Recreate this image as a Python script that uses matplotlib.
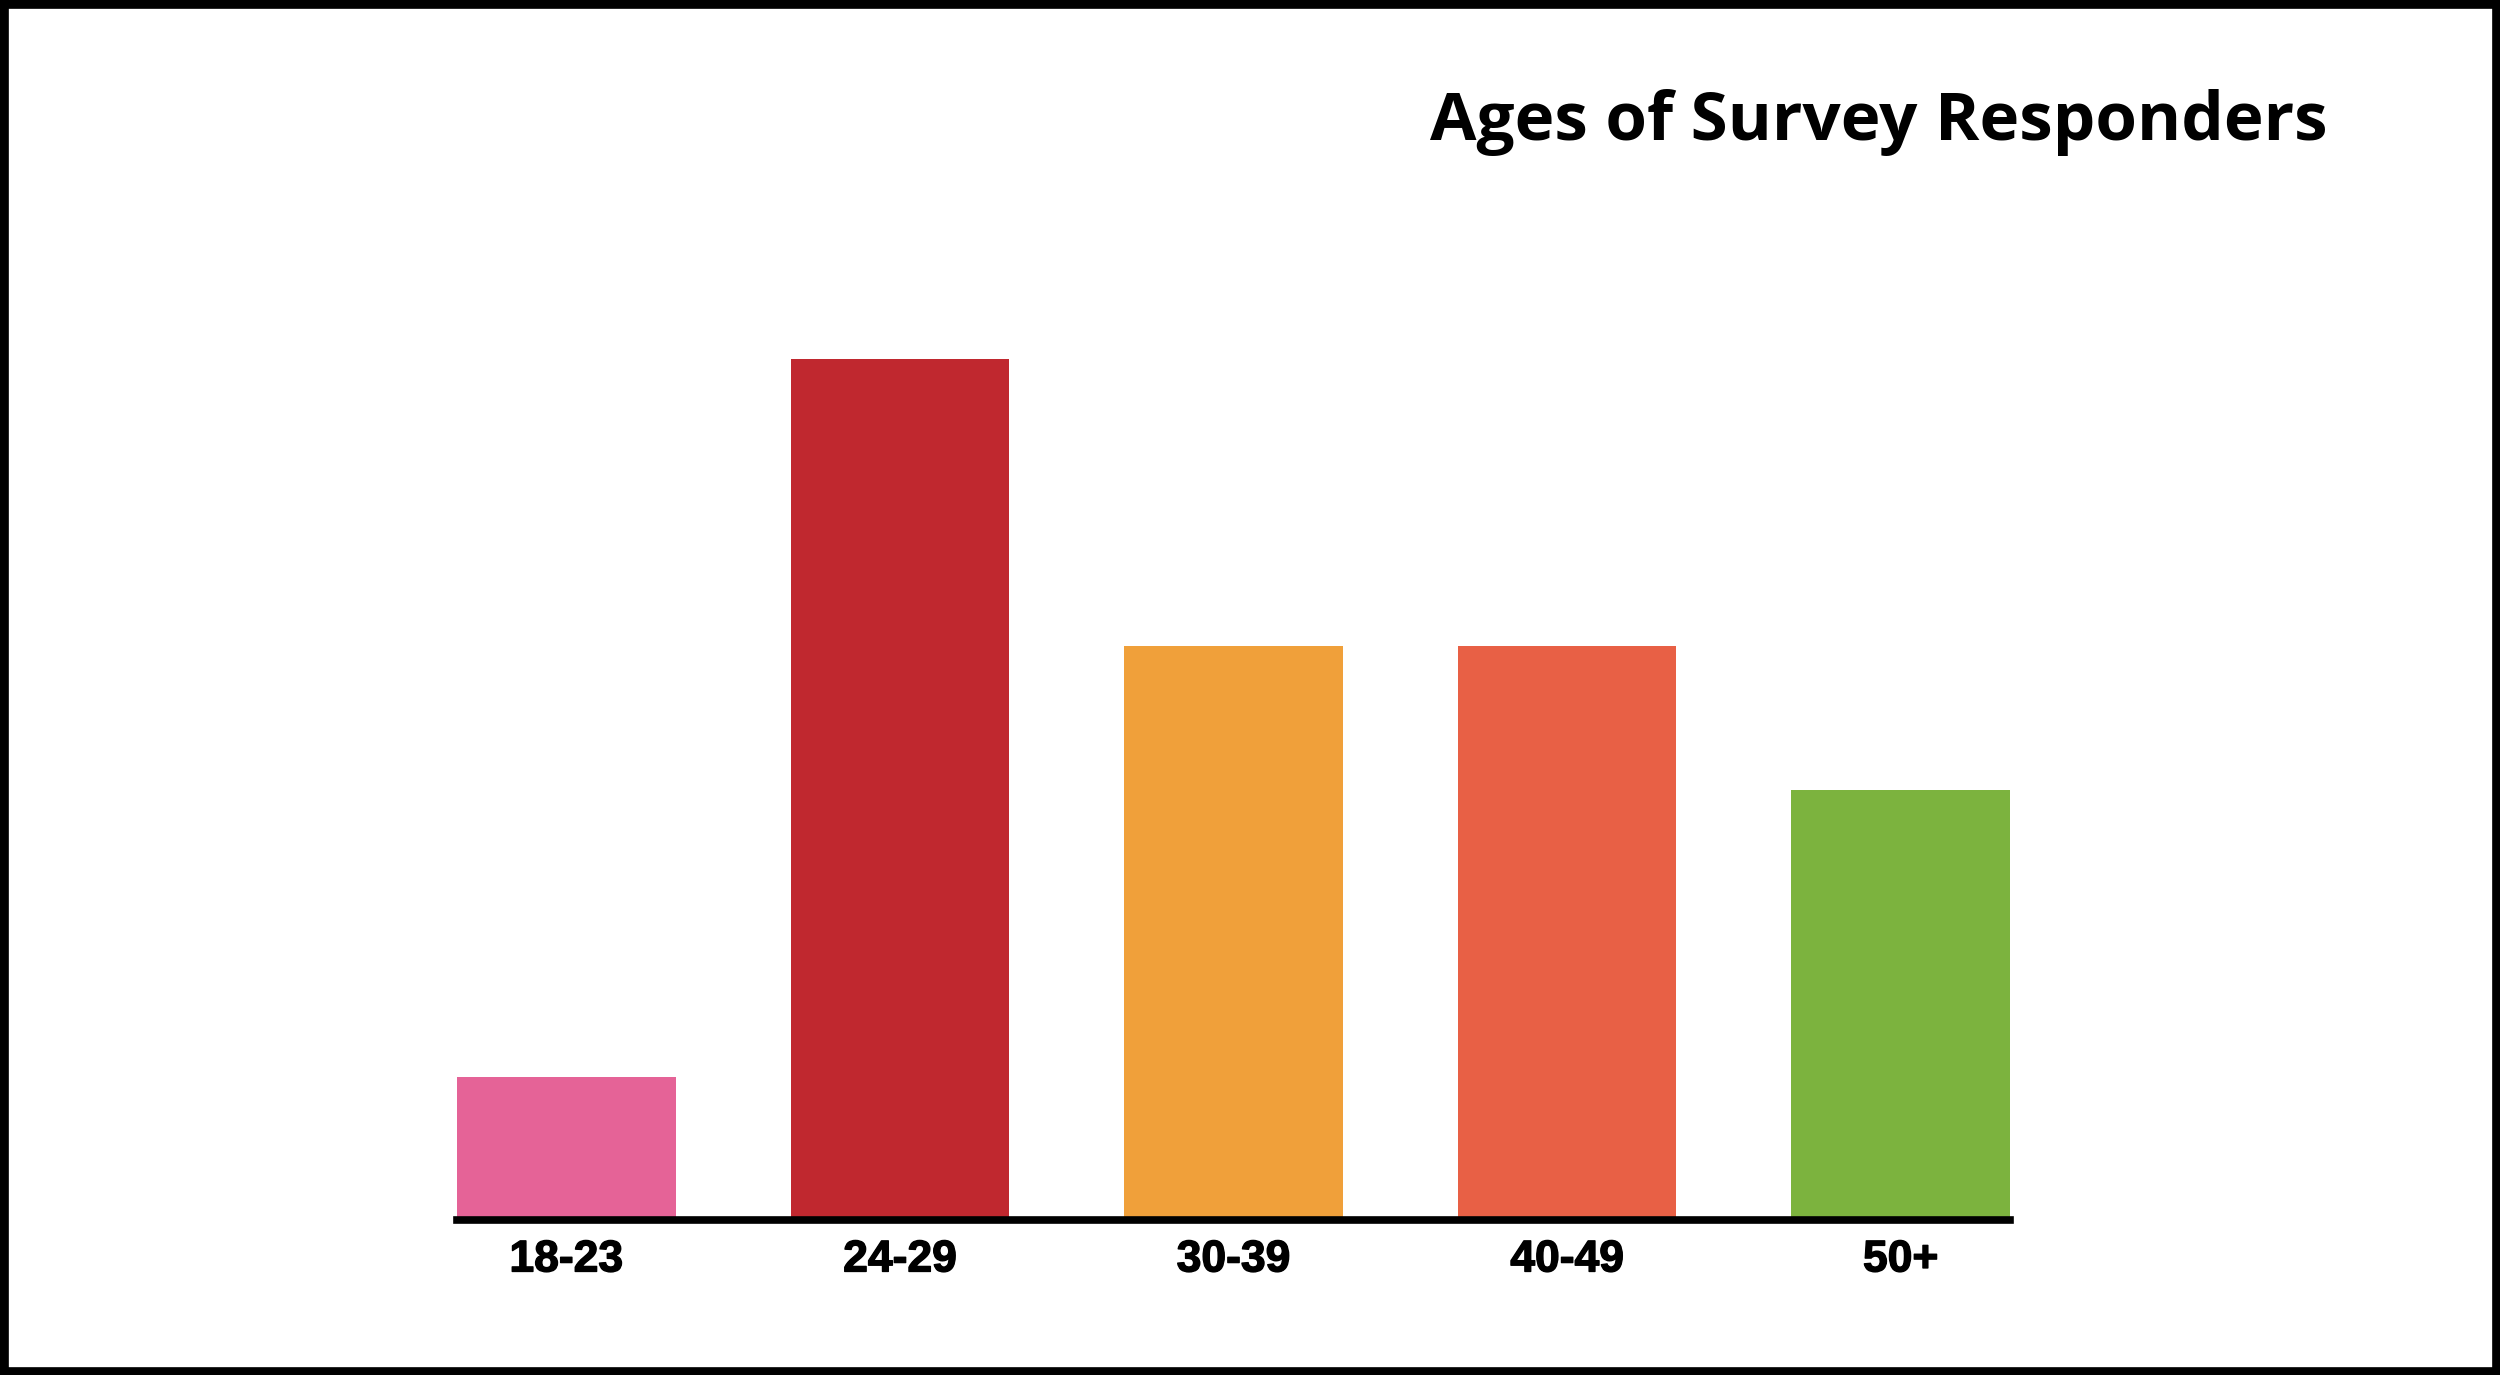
import matplotlib
matplotlib.use("Agg")
import matplotlib.pyplot as plt
import matplotlib.patheffects as pe
from matplotlib.patches import Rectangle

# dados do gráfico
faixas = ["18-23", "24-29", "30-39", "40-49", "50+"]
respostas = [1, 6, 4, 4, 3]
cores = ["#E56397", "#C0282F", "#F0A03A", "#E86045", "#7CB33E"]

fig = plt.figure(figsize=(25, 13.75), dpi=100)
ax = fig.add_axes([0.1828, 1 - 1220 / 1375, 0.6212, (1220 - 359) / 1375])

x = range(len(faixas))
ax.bar(x, respostas, width=0.655, color=cores, zorder=2)

ax.set_xlim(-0.3275, len(faixas) - 1 + 0.3275)
ax.set_ylim(0, 6)
ax.set_xticks(list(x))
ax.set_xticklabels(faixas, fontsize=32, fontweight="bold", family="Liberation Sans")
for rotulo in ax.get_xticklabels():
    rotulo.set_path_effects([pe.withStroke(linewidth=1.0, foreground="black")])
ax.tick_params(axis="x", length=0, pad=14)
ax.set_yticks([])

for lado in ["top", "right", "left"]:
    ax.spines[lado].set_visible(False)
ax.spines["bottom"].set_linewidth(5.5)
ax.spines["bottom"].set_zorder(3)

# título
fig.text(0.931, 1 - 140 / 1375, "Ages of Survey Responders", ha="right",
         va="baseline", fontsize=48.5, fontweight="bold", family="Open Sans")

# moldura preta
fig.patches.append(Rectangle((0, 0), 1, 1, transform=fig.transFigure,
                             fill=False, edgecolor="black", linewidth=12))

fig.savefig("out.png", dpi=100, facecolor="white")
